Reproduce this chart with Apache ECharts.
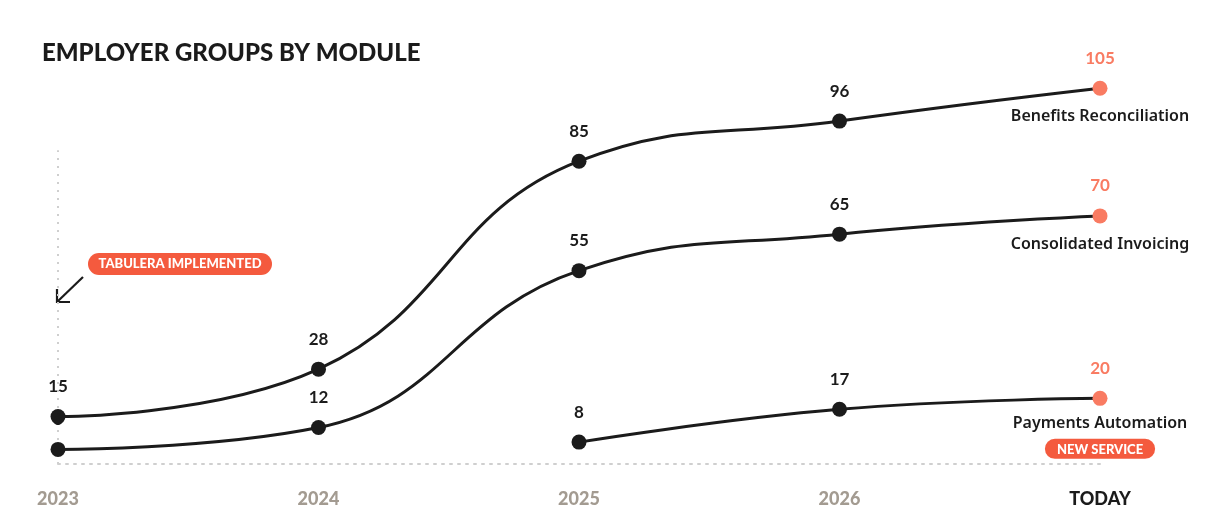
<!DOCTYPE html>
<html>
<head>
<meta charset="utf-8">
<script src="https://cdn.jsdelivr.net/npm/echarts@6/dist/echarts.min.js"></script>
<style>
html,body{margin:0;padding:0;background:#fff;}
#chart{width:1219px;height:522px;}
</style>
</head>
<body>
<div id="chart"></div>
<script>
const categories = ['2023', '2024', '2025', '2026', 'TODAY'];
const benefitsValues = [15, 28, 85, 96, 105];
const invoicingValues = [6, 12, 55, 65, 70];
const paymentsValues = [null, null, 8, 17, 20];
const seriesNames = ['Benefits Reconciliation', 'Consolidated Invoicing', 'Payments Automation'];
const titleText = 'EMPLOYER GROUPS BY MODULE';
const implementedBadge = 'TABULERA IMPLEMENTED';
const newServiceBadge = 'NEW SERVICE';

const INK = '#1b1b1b';
const CORAL = '#f97b62';
const BADGE = '#f45a3e';
const FONT = 'Lato';
const NAME_FONT = 'Noto Sans';

function makeData(values) {
  return values.map((v, i) => {
    if (v === null) return null;
    if (i === values.length - 1) {
      return {
        value: v,
        itemStyle: { color: CORAL },
        label: { color: CORAL }
      };
    }
    return v;
  });
}

function makeSeries(name, values, nameFormatter, nameLabelExtra) {
  return {
    name: name,
    type: 'line',
    z: 3,
    smooth: 0.45,
    connectNulls: false,
    data: makeData(values),
    symbol: 'circle',
    symbolSize: 15,
    itemStyle: { color: INK },
    lineStyle: { color: INK, width: 3 },
    label: {
      show: true,
      position: 'top',
      distance: 14,
      color: INK,
      fontFamily: FONT,
      fontWeight: 'bold',
      fontSize: 17
    },
    markPoint: {
      symbol: 'circle',
      symbolSize: 1,
      itemStyle: { color: 'rgba(0,0,0,0)' },
      silent: true,
      data: [{ type: 'max' }],
      label: Object.assign({
        show: true,
        position: 'bottom',
        distance: 20,
        color: INK,
        fontFamily: NAME_FONT,
        fontWeight: 600,
        fontSize: 16,
        formatter: nameFormatter
      }, nameLabelExtra || {})
    }
  };
}

const chart = echarts.init(document.getElementById('chart'));
const option = {
  animation: false,
  backgroundColor: '#ffffff',
  title: {
    text: titleText,
    left: 37,
    top: 36,
    textStyle: { fontFamily: FONT, fontWeight: 900, fontSize: 24, color: INK }
  },
  grid: { left: 58, right: 119, top: 70, bottom: 58 },
  xAxis: {
    type: 'category',
    data: categories,
    boundaryGap: false,
    axisLine: { show: true, lineStyle: { color: '#cfcfcf', width: 2, type: [2, 6] } },
    axisTick: { show: false },
    axisLabel: {
      margin: 26,
      fontFamily: FONT,
      fontWeight: 900,
      fontSize: 18,
      color: function (v) { return v === 'TODAY' ? INK : '#a39b91'; }
    },
    splitLine: { show: false }
  },
  yAxis: {
    type: 'value',
    min: 2,
    max: 110,
    show: false,
    splitLine: { show: false }
  },
  series: [
    {
      name: 'guide',
      type: 'line',
      z: 1,
      data: [],
      silent: true,
      markLine: {
        z: 1,
        silent: true,
        symbol: 'none',
        label: { show: false },
        lineStyle: { color: '#cfcfcf', width: 2, type: [2, 6] },
        data: [[{ coord: [0, 2] }, { coord: [0, 88] }]]
      }
    },
    makeSeries(seriesNames[0], benefitsValues, seriesNames[0]),
    makeSeries(seriesNames[1], invoicingValues, seriesNames[1]),
    makeSeries(seriesNames[2], paymentsValues, '{n|' + seriesNames[2] + '}\n{b|' + newServiceBadge + '}', {
      distance: 14,
      rich: {
        n: { color: INK, fontFamily: NAME_FONT, fontWeight: 600, fontSize: 16, lineHeight: 22 },
        b: { color: '#fff', fontFamily: FONT, fontWeight: 900, fontSize: 13, backgroundColor: BADGE, borderRadius: 11, padding: [4, 12, 3, 12], lineHeight: 28 }
      }
    })
  ],
  graphic: [
    {
      type: 'group',
      left: 88,
      top: 253,
      children: [
        { type: 'rect', shape: { x: 0, y: 0, width: 184, height: 22, r: 11 }, style: { fill: BADGE } },
        { type: 'text', x: 92, y: 11, style: { text: implementedBadge, fill: '#fff', font: '900 13px Lato', textAlign: 'center', textVerticalAlign: 'middle' } }
      ]
    },
    {
      type: 'polyline',
      shape: { points: [[83, 277], [57, 302]] },
      style: { stroke: INK, lineWidth: 2.2, fill: null }
    },
    {
      type: 'polyline',
      shape: { points: [[57, 289], [57, 302], [70, 302]] },
      style: { stroke: INK, lineWidth: 2.2, fill: null }
    }
  ]
};

chart.setOption(option);
</script>
</body>
</html>
